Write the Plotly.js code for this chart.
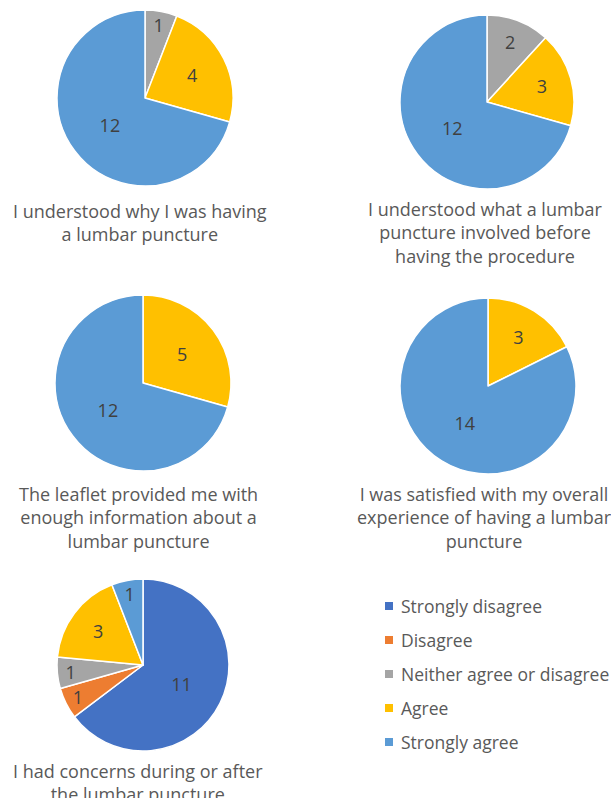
<!DOCTYPE html>
<html>
<head>
<meta charset="utf-8">
<script src="https://cdn.plot.ly/plotly-3.0.1.min.js"></script>
<style>html,body{margin:0;padding:0;background:#fff;}#chart{width:611px;height:798px;}</style>
</head>
<body>
<div id="chart"></div>
<script>
const categories = ["Strongly disagree", "Disagree", "Neither agree or disagree", "Agree", "Strongly agree"];
const colors = ["#4472C4", "#ED7D31", "#A5A5A5", "#FFC000", "#5B9BD5"];
const questions = [
  "I understood why I was having<br>a lumbar puncture",
  "I understood what a lumbar<br>puncture involved before<br>having the procedure",
  "The leaflet provided me with<br>enough information about a<br>lumbar puncture",
  "I was satisfied with my overall<br>experience of having a lumbar<br>puncture",
  "I had concerns during or after<br>the lumbar puncture"
];
const q1 = [0, 0, 1, 4, 12];
const q2 = [0, 0, 2, 3, 12];
const q3 = [0, 0, 0, 5, 12];
const q4 = [0, 0, 0, 3, 14];
const q5 = [11, 1, 1, 3, 1];
const seriesValues = [q1, q2, q3, q4, q5];

const W = 611, H = 798;
const px = x => x / W;
const py = y => 1 - y / H;

// layout geometry (pixels): pie centers, radius, title anchor
const pieGeom = [
  {cx: 145, cy: 98, r: 88, tx: 140, ty: 197},
  {cx: 487, cy: 102, r: 87, tx: 485, ty: 195},
  {cx: 143, cy: 383, r: 88, tx: 138, ty: 480},
  {cx: 488, cy: 386, r: 88, tx: 484, ty: 480},
  {cx: 143, cy: 665, r: 86, tx: 138, ty: 757}
];

const data = seriesValues.map((vals, i) => {
  const g = pieGeom[i];
  return {
    type: 'pie',
    labels: categories,
    values: vals,
    text: vals.map(v => v > 0 ? String(v) : ''),
    textinfo: 'text',
    textposition: 'inside',
    insidetextorientation: 'horizontal',
    insidetextfont: {family: 'Open Sans, sans-serif', size: 18, color: '#404040'},
    sort: false,
    direction: 'clockwise',
    rotation: 0,
    marker: {colors: colors, line: {color: '#ffffff', width: 1.5}},
    domain: {x: [px(g.cx - g.r), px(g.cx + g.r)], y: [py(g.cy + g.r), py(g.cy - g.r)]},
    showlegend: false,
    hoverinfo: 'label+value'
  };
});

const annotations = questions.map((q, i) => ({
  xref: 'paper', yref: 'paper',
  x: px(pieGeom[i].tx), y: py(pieGeom[i].ty),
  xanchor: 'center', yanchor: 'top',
  text: q, showarrow: false, align: 'center',
  font: {family: 'Open Sans, sans-serif', size: 18, color: '#595959'}
}));

const shapes = [];
const legendRows = [606, 640, 674, 708, 742];
categories.forEach((c, i) => {
  const y = legendRows[i];
  shapes.push({type: 'rect', xref: 'paper', yref: 'paper',
    x0: px(385), x1: px(393), y0: py(y + 4), y1: py(y - 4),
    fillcolor: colors[i], line: {width: 0}});
  annotations.push({xref: 'paper', yref: 'paper', x: px(399), y: py(y),
    xanchor: 'left', yanchor: 'middle', text: c, showarrow: false,
    font: {family: 'Open Sans, sans-serif', size: 17.5, color: '#595959'}});
});

const layout = {
  width: W, height: H,
  margin: {l: 0, r: 0, t: 0, b: 0},
  paper_bgcolor: '#ffffff',
  showlegend: false,
  annotations: annotations,
  shapes: shapes
};

Plotly.newPlot('chart', data, layout, {displayModeBar: false, staticPlot: true});
</script>
</body>
</html>
